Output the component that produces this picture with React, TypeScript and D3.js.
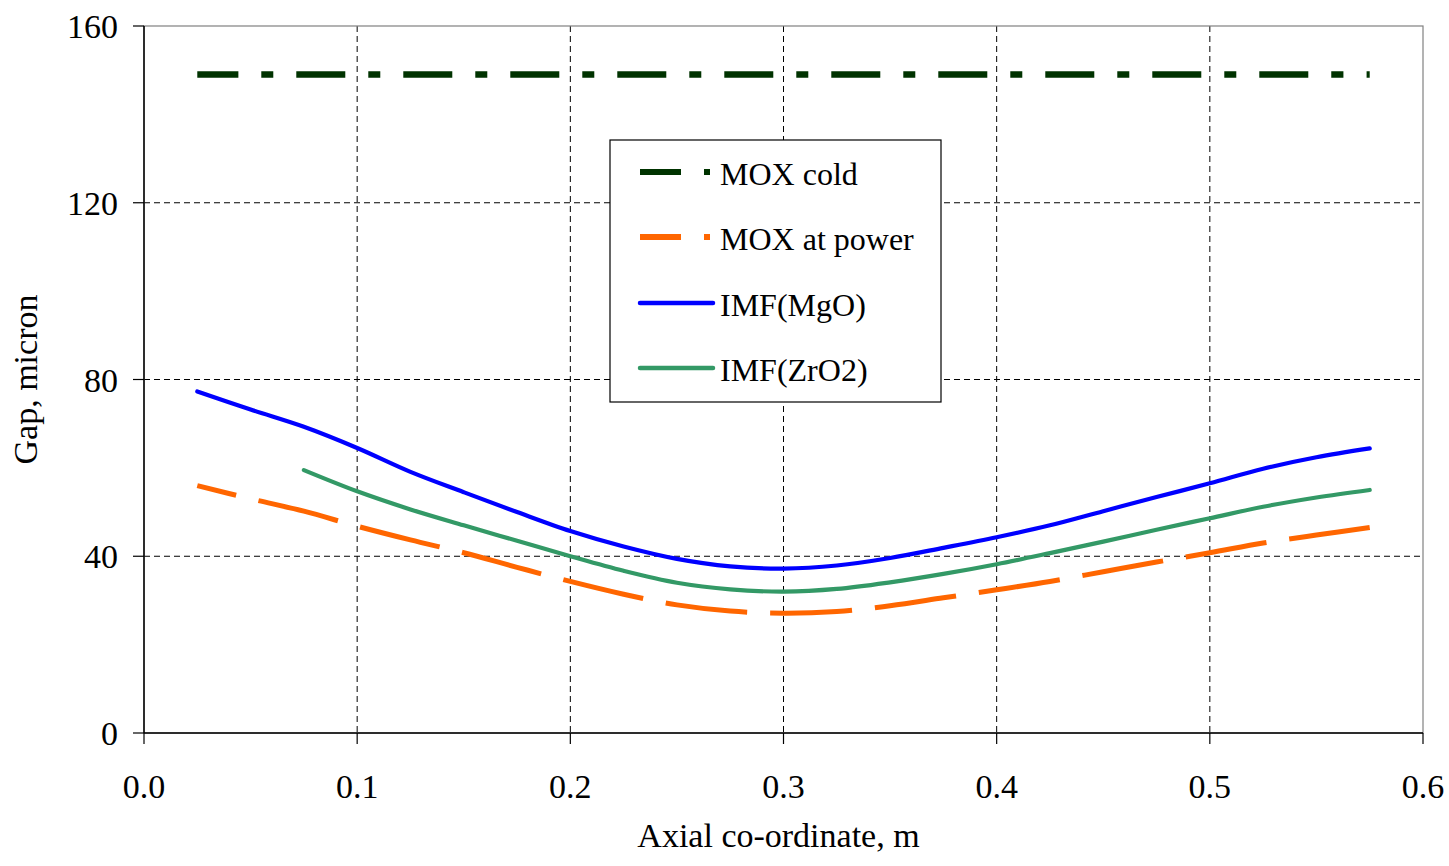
import React from "react";
import * as d3 from "d3";

const xValues = [0.025, 0.05, 0.075, 0.1, 0.125, 0.15, 0.175, 0.2, 0.225, 0.25, 0.275, 0.3, 0.325, 0.35, 0.375, 0.4, 0.425, 0.45, 0.475, 0.5, 0.525, 0.55, 0.575];
const moxCold = [149, 149, 149, 149, 149, 149, 149, 149, 149, 149, 149, 149, 149, 149, 149, 149, 149, 149, 149, 149, 149, 149, 149];
const moxAtPower = [56.0, 53.0, 50.2, 46.8, 43.7, 40.8, 37.5, 34.3, 31.4, 29.0, 27.6, 27.1, 27.5, 28.8, 30.6, 32.4, 34.3, 36.5, 38.7, 40.8, 43.0, 44.8, 46.5];
const imfMgO = [77.3, 73.2, 69.3, 64.5, 59.1, 54.5, 50.0, 45.7, 42.2, 39.4, 37.7, 37.2, 37.9, 39.6, 41.9, 44.3, 47.0, 50.2, 53.4, 56.5, 59.8, 62.4, 64.4];
const zrX = [0.075, 0.1, 0.125, 0.15, 0.175, 0.2, 0.225, 0.25, 0.275, 0.3, 0.325, 0.35, 0.375, 0.4, 0.425, 0.45, 0.475, 0.5, 0.525, 0.55, 0.575];
const imfZrO2 = [59.5, 54.7, 50.6, 47.0, 43.5, 40.0, 36.7, 34.0, 32.5, 32.0, 32.6, 34.1, 36.0, 38.2, 40.7, 43.3, 46.0, 48.6, 51.2, 53.3, 55.0];

const xTicks = [0, 0.1, 0.2, 0.3, 0.4, 0.5, 0.6];
const yTicks = [0, 40, 80, 120, 160];
const legendLabels = ["MOX cold", "MOX at power", "IMF(MgO)", "IMF(ZrO2)"];

const W = 1449, H = 866;
const L = 144, R = 1423, T = 26, B = 733;
const FONT = "'Liberation Serif', 'Times New Roman', serif";

export default function App() {
  const x = d3.scaleLinear().domain([0, 0.6]).range([L, R]);
  const y = d3.scaleLinear().domain([0, 160]).range([B, T]);
  const line = d3.line<[number, number]>().x(d => x(d[0])).y(d => y(d[1])).curve(d3.curveCatmullRom.alpha(0.5));
  const zip = (xs: number[], ys: number[]) => xs.map((v, i) => [v, ys[i]] as [number, number]);

  const series = [
    { label: legendLabels[0], pts: zip(xValues, moxCold), color: "#003300", w: 6.5, dash: "49,23,12,23", offset: 8, legendDash: "41,23,6,200" },
    { label: legendLabels[1], pts: zip(xValues, moxAtPower), color: "#FF6600", w: 5, dash: "82,23", offset: 42, legendDash: "41,23,6,200" },
    { label: legendLabels[2], pts: zip(xValues, imfMgO), color: "#0000FF", w: 4.2, dash: null, offset: 0, legendDash: null },
    { label: legendLabels[3], pts: zip(zrX, imfZrO2), color: "#339966", w: 4.2, dash: null, offset: 0, legendDash: null },
  ];

  const legendRowsY = [172, 237, 303, 368];

  return (
    <svg width={W} height={H} style={{ position: "absolute", left: 0, top: 0, background: "#fff" }} fontFamily={FONT}>
      <rect x={0} y={0} width={W} height={H} fill="#fff" />
      {xTicks.slice(1, -1).map(t => (
        <line key={"gx" + t} x1={x(t)} x2={x(t)} y1={T} y2={B} stroke="#000" strokeWidth={1} strokeDasharray="6,4" />
      ))}
      {yTicks.slice(1, -1).map(t => (
        <line key={"gy" + t} x1={L} x2={R} y1={y(t)} y2={y(t)} stroke="#000" strokeWidth={1} strokeDasharray="6,4" />
      ))}
      <rect x={L} y={T} width={R - L} height={B - T} fill="none" stroke="#808080" strokeWidth={1.2} />
      <line x1={L} x2={L} y1={T} y2={B} stroke="#000" strokeWidth={1.5} />
      <line x1={L} x2={R} y1={B} y2={B} stroke="#000" strokeWidth={1.5} />
      {xTicks.map(t => (
        <g key={"tx" + t}>
          <line x1={x(t)} x2={x(t)} y1={B} y2={B + 11} stroke="#000" strokeWidth={1.2} />
          <text x={x(t)} y={798} textAnchor="middle" fontSize={34}>{t.toFixed(1)}</text>
        </g>
      ))}
      {yTicks.map(t => (
        <g key={"ty" + t}>
          <line x1={L - 11} x2={L} y1={y(t)} y2={y(t)} stroke="#000" strokeWidth={1.2} />
          <text x={118} y={y(t) + 12} textAnchor="end" fontSize={34}>{t}</text>
        </g>
      ))}
      <text x={(L + R) / 2 - 5} y={847} textAnchor="middle" fontSize={34}>Axial co-ordinate, m</text>
      <text transform={`translate(37,${(T + B) / 2}) rotate(-90)`} textAnchor="middle" fontSize={34}>Gap, micron</text>
      {series.map(s => (
        <path key={s.label} d={line(s.pts) || ""} fill="none" stroke={s.color} strokeWidth={s.w}
          strokeDasharray={s.dash || undefined} strokeDashoffset={s.offset} strokeLinecap={s.dash ? "butt" : "round"} />
      ))}
      <rect x={610} y={140} width={331} height={262} fill="#fff" stroke="#000" strokeWidth={1.2} />
      {series.map((s, i) => (
        <g key={"lg" + s.label}>
          <line x1={640} x2={713} y1={legendRowsY[i]} y2={legendRowsY[i]} stroke={s.color} strokeWidth={s.legendDash ? 6 : 4.5}
            strokeDasharray={s.legendDash || undefined} strokeLinecap={s.legendDash ? "butt" : "round"} />
          <text x={720} y={legendRowsY[i] + 13} fontSize={32}>{s.label}</text>
        </g>
      ))}
    </svg>
  );
}
